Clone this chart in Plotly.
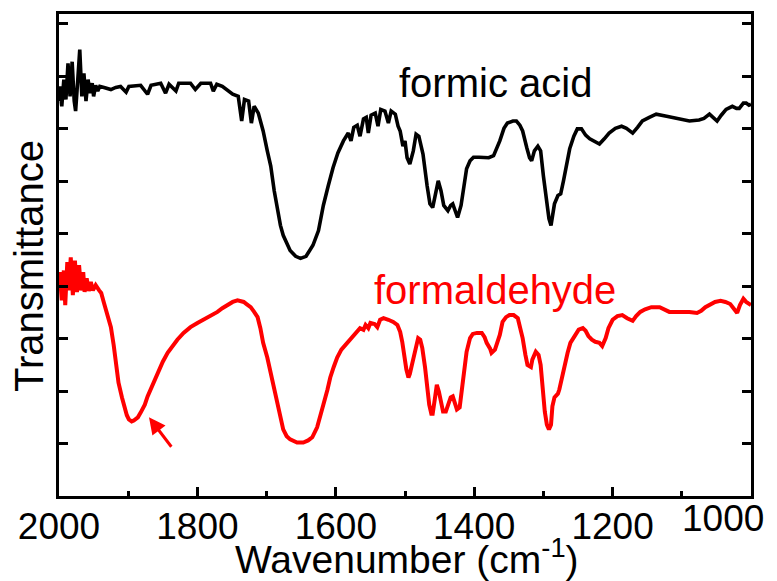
import plotly.graph_objects as go

# ---- data ----
wn_formic = [2000, 1999, 1996, 1993, 1990, 1987, 1984, 1981, 1978, 1976, 1973, 1970, 1967, 1964, 1961, 1958,
             1955, 1952, 1950, 1947, 1944, 1941, 1935, 1925, 1918, 1911, 1903, 1899, 1882, 1872, 1867, 1853,
             1846, 1841, 1831, 1827, 1810, 1803, 1795, 1781, 1777, 1772, 1764, 1755, 1749, 1741, 1736, 1732,
             1726, 1722, 1718, 1712, 1705, 1699, 1694, 1689, 1684, 1680, 1676, 1670, 1666, 1658, 1651, 1643,
             1633, 1625, 1618, 1611, 1604, 1597, 1589, 1582, 1578, 1574, 1569, 1565, 1560, 1556, 1553, 1549,
             1543, 1539, 1535, 1529, 1524, 1520, 1514, 1510, 1507, 1503, 1500, 1497, 1493, 1488, 1484, 1480,
             1474, 1468, 1464, 1460, 1455, 1452, 1448, 1444, 1438, 1434, 1431, 1427, 1424, 1419, 1415, 1411,
             1406, 1401, 1393, 1386, 1379, 1372, 1367, 1363, 1357, 1352, 1344, 1339, 1334, 1330, 1324, 1320,
             1317, 1313, 1308, 1304, 1300, 1295, 1292, 1289, 1287, 1284, 1279, 1275, 1271, 1267, 1262, 1256,
             1251, 1245, 1239, 1233, 1226, 1219, 1212, 1205, 1196, 1187, 1180, 1171, 1164, 1157, 1147, 1137,
             1122, 1104, 1089, 1075, 1068, 1060, 1055, 1049, 1043, 1036, 1027, 1021, 1017, 1011, 1007, 1003,
             1000]
tr_formic = [7.53, 7.81, 7.43, 7.94, 7.56, 8.25, 7.62, 8.28, 7.53, 7.34, 7.91, 8.51, 7.62, 8.06, 7.53, 7.94,
             7.68, 7.87, 7.62, 7.83, 7.72, 7.81, 7.79, 7.75, 7.79, 7.81, 7.70, 7.81, 7.83, 7.66, 7.83, 7.87,
             7.68, 7.85, 7.72, 7.87, 7.87, 7.75, 7.87, 7.87, 7.72, 7.85, 7.81, 7.72, 7.66, 7.62, 7.15, 7.56,
             7.53, 7.11, 7.43, 7.30, 6.96, 6.58, 6.29, 5.82, 5.44, 5.16, 4.97, 4.78, 4.68, 4.57, 4.53, 4.57,
             4.78, 5.06, 5.54, 5.91, 6.26, 6.54, 6.77, 6.92, 6.77, 7.03, 7.07, 6.86, 7.19, 7.22, 6.92, 7.26,
             7.30, 7.05, 7.37, 7.34, 7.11, 7.34, 7.28, 7.05, 6.96, 6.67, 6.77, 6.45, 6.33, 6.58, 6.90, 6.86,
             6.52, 5.91, 5.57, 5.50, 5.86, 6.01, 5.82, 5.54, 5.44, 5.54, 5.57, 5.40, 5.31, 5.54, 5.91, 6.24,
             6.39, 6.46, 6.46, 6.45, 6.45, 6.49, 6.64, 6.77, 7.01, 7.11, 7.15, 7.15, 7.07, 6.96, 6.64, 6.45,
             6.39, 6.58, 6.67, 6.58, 6.10, 5.63, 5.29, 5.16, 5.35, 5.57, 5.73, 5.76, 6.01, 6.29, 6.62, 6.86,
             7.00, 7.00, 6.88, 6.81, 6.75, 6.71, 6.81, 6.92, 7.01, 7.05, 7.01, 6.92, 7.03, 7.15, 7.22, 7.28,
             7.24, 7.20, 7.15, 7.17, 7.20, 7.28, 7.22, 7.15, 7.26, 7.37, 7.43, 7.39, 7.39, 7.49, 7.49, 7.45,
             7.47]

wn_formaldehyde = [2000, 1999, 1996, 1993, 1991, 1988, 1986, 1983, 1980, 1977, 1974, 1971, 1968, 1965, 1963,
                   1960, 1957, 1954, 1951, 1947, 1942, 1939, 1935, 1929, 1925, 1921, 1918, 1914, 1909, 1906,
                   1902, 1899, 1895, 1892, 1886, 1882, 1876, 1872, 1865, 1857, 1850, 1843, 1836, 1829, 1820,
                   1810, 1800, 1791, 1781, 1771, 1764, 1756, 1749, 1742, 1736, 1733, 1729, 1723, 1718, 1713,
                   1709, 1705, 1699, 1694, 1689, 1684, 1680, 1676, 1671, 1666, 1656, 1647, 1640, 1634, 1627,
                   1622, 1618, 1612, 1608, 1603, 1598, 1592, 1586, 1581, 1575, 1571, 1565, 1560, 1557, 1553,
                   1550, 1544, 1540, 1536, 1531, 1524, 1517, 1511, 1507, 1504, 1501, 1498, 1495, 1493, 1490,
                   1485, 1481, 1478, 1475, 1471, 1468, 1465, 1462, 1460, 1457, 1454, 1451, 1448, 1445, 1441,
                   1438, 1434, 1431, 1428, 1425, 1421, 1418, 1414, 1411, 1406, 1402, 1396, 1389, 1385, 1382,
                   1377, 1375, 1370, 1366, 1363, 1359, 1354, 1349, 1343, 1337, 1333, 1330, 1326, 1323, 1318,
                   1316, 1311, 1307, 1304, 1301, 1298, 1295, 1292, 1289, 1287, 1284, 1279, 1277, 1274, 1269,
                   1265, 1261, 1255, 1249, 1243, 1239, 1235, 1230, 1225, 1219, 1215, 1210, 1206, 1200, 1193,
                   1186, 1179, 1171, 1166, 1160, 1153, 1144, 1132, 1125, 1118, 1104, 1089, 1078, 1072, 1066,
                   1059, 1052, 1044, 1037, 1030, 1024, 1020, 1016, 1011, 1007, 1003, 1000]
tr_formaldehyde = [4.02, 4.27, 3.73, 4.30, 3.64, 4.46, 3.92, 4.55, 3.83, 4.49, 3.89, 4.40, 3.92, 4.27, 3.89,
                   4.15, 3.91, 4.08, 3.92, 4.02, 3.92, 3.87, 3.68, 3.39, 3.22, 2.88, 2.60, 2.16, 1.88, 1.71,
                   1.54, 1.46, 1.42, 1.44, 1.50, 1.59, 1.74, 1.90, 2.12, 2.35, 2.56, 2.73, 2.86, 2.98, 3.11,
                   3.22, 3.30, 3.36, 3.43, 3.51, 3.58, 3.64, 3.70, 3.73, 3.72, 3.70, 3.66, 3.60, 3.51, 3.41,
                   3.20, 2.92, 2.64, 2.35, 2.03, 1.78, 1.50, 1.27, 1.14, 1.08, 1.02, 1.02, 1.06, 1.12, 1.31,
                   1.52, 1.74, 2.03, 2.26, 2.46, 2.64, 2.79, 2.88, 2.98, 3.07, 3.13, 3.20, 3.17, 3.26, 3.20,
                   3.30, 3.28, 3.22, 3.36, 3.39, 3.36, 3.32, 3.26, 3.13, 2.94, 2.64, 2.41, 2.26, 2.33, 2.50,
                   2.82, 3.01, 2.98, 2.82, 2.45, 2.12, 1.74, 1.57, 1.57, 1.84, 2.12, 1.99, 1.74, 1.61, 1.61,
                   1.74, 1.88, 1.90, 1.78, 1.65, 1.69, 1.99, 2.45, 2.75, 3.01, 3.09, 3.11, 3.11, 3.03, 2.92,
                   2.81, 2.73, 2.79, 2.94, 3.07, 3.32, 3.41, 3.45, 3.45, 3.39, 3.20, 3.01, 2.69, 2.50, 2.46,
                   2.60, 2.75, 2.69, 2.50, 2.03, 1.61, 1.36, 1.27, 1.36, 1.71, 1.88, 1.95, 2.03, 2.22, 2.46,
                   2.73, 2.92, 3.05, 3.17, 3.20, 3.15, 3.05, 2.98, 2.94, 2.92, 2.86, 3.01, 3.20, 3.36, 3.43,
                   3.45, 3.39, 3.34, 3.43, 3.51, 3.56, 3.60, 3.60, 3.55, 3.51, 3.51, 3.51, 3.49, 3.53, 3.60,
                   3.66, 3.70, 3.72, 3.70, 3.66, 3.55, 3.49, 3.64, 3.76, 3.70, 3.66, 3.64]

x_tick_vals = [2000, 1800, 1600, 1400, 1200, 1000]
x_tick_text = ["2000", "1800", "1600", "1400", "1200", ""]
y_tick_vals = [1, 2, 3, 4, 5, 6, 7, 8, 9]

FONT = "Liberation Sans, Arial, sans-serif"
ML, MR, MT, MB = 59, 26, 14, 85
PW = 777 - ML - MR
PH = 581 - MT - MB

fig = go.Figure()
fig.add_trace(go.Scatter(x=wn_formic, y=tr_formic, mode="lines",
                         line=dict(color="black", width=3.6), showlegend=False))
fig.add_trace(go.Scatter(x=wn_formaldehyde, y=tr_formaldehyde, mode="lines",
                         line=dict(color="#ff0000", width=4), showlegend=False))

fig.update_layout(
    width=777, height=581,
    margin=dict(l=ML, r=MR, t=MT, b=MB, autoexpand=False),
    paper_bgcolor="white", plot_bgcolor="white",
    font=dict(family=FONT, size=37, color="black"),
    showlegend=False,
)
fig.update_xaxes(
    range=[2000, 1000], showgrid=False, zeroline=False, automargin=False,
    showline=True, linecolor="black", linewidth=3, mirror=True,
    ticks="inside", ticklen=9, tickwidth=3, tickcolor="black",
    tickvals=x_tick_vals, ticktext=x_tick_text, ticklabelstandoff=-4,
    tickfont=dict(family=FONT, size=37, color="black"),
    minor=dict(ticks="inside", ticklen=5, tickwidth=3, tickcolor="black", dtick=100, tick0=1900),
)
fig.update_yaxes(
    range=[0, 9.19], showgrid=False, zeroline=False, automargin=False,
    showline=True, linecolor="black", linewidth=3, mirror="ticks",
    ticks="inside", ticklen=9, tickwidth=3, tickcolor="black",
    tickvals=y_tick_vals, showticklabels=False,
)

# x-axis title
fig.add_annotation(text="Wavenumber (cm<sup>-1</sup>)", xref="paper", yref="paper",
                   x=(407 - ML) / PW, y=-(556 - (581 - MB)) / PH,
                   xanchor="center", yanchor="middle", showarrow=False,
                   font=dict(family=FONT, size=39, color="black"))
# y-axis title
fig.add_annotation(text="Transmittance", xref="paper", yref="paper",
                   x=-(ML - 29) / PW, y=1 - (266 - MT) / PH,
                   xanchor="center", yanchor="middle", textangle=-90, showarrow=False,
                   font=dict(family=FONT, size=40, color="black"))
# last tick label shifted inside the page
fig.add_annotation(text="1000", xref="paper", yref="paper", x=(723 - ML) / PW,
                   y=-(518 - (581 - MB)) / PH,
                   xanchor="center", yanchor="middle", showarrow=False,
                   font=dict(family=FONT, size=37, color="black"))
# series labels
fig.add_annotation(text="formic acid", x=1369, y=7.87, xref="x", yref="y",
                   xanchor="center", yanchor="middle", showarrow=False,
                   font=dict(family=FONT, size=40, color="black"))
fig.add_annotation(text="formaldehyde", x=1370, y=3.92, xref="x", yref="y",
                   xanchor="center", yanchor="middle", showarrow=False,
                   font=dict(family=FONT, size=40, color="#ff0000"))
# arrow pointing to the 1890 band
fig.add_annotation(x=1870, y=1.50, ax=1836, ay=0.91, xref="x", yref="y", axref="x", ayref="y",
                   text="", showarrow=True, arrowhead=2, arrowsize=1.1, arrowwidth=3,
                   arrowcolor="#ff0000")

fig.write_html("out.html")
